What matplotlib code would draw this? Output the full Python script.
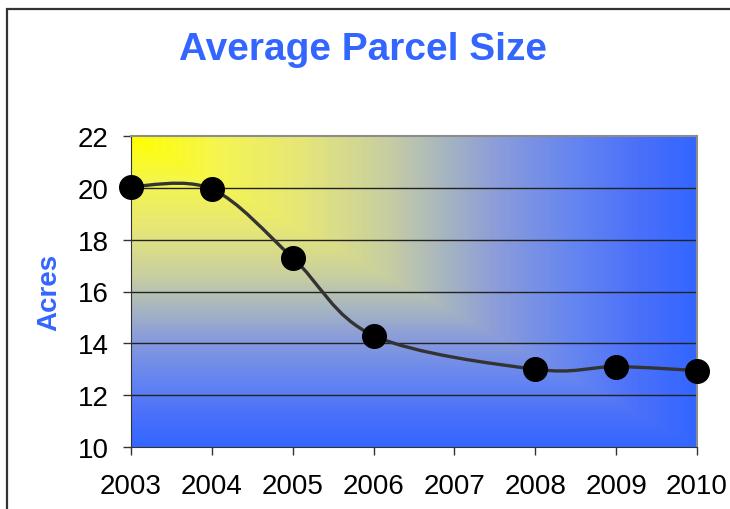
import numpy as np
import matplotlib
matplotlib.use("Agg")
import matplotlib.pyplot as plt
from matplotlib.path import Path
from matplotlib.patches import PathPatch, Rectangle
from matplotlib.colors import LinearSegmentedColormap

plt.rcParams['font.family'] = ['Liberation Sans', 'DejaVu Sans']

# data
years = [2003, 2004, 2005, 2006, 2008, 2009, 2010]
acres = [20.05, 19.95, 17.3, 14.3, 13.0, 13.1, 12.95]
yticks = [10, 12, 14, 16, 18, 20, 22]
xticks = [2003, 2004, 2005, 2006, 2007, 2008, 2009, 2010]

title_color = '#3366FF'

def smooth_path(xs, ys):
    # Excel-style smoothed line: cubic Bezier with Catmull-Rom tangents
    pts = np.column_stack([xs, ys]).astype(float)
    n = len(pts)
    verts = [pts[0]]
    codes = [Path.MOVETO]
    for i in range(n - 1):
        p_prev = pts[i - 1] if i > 0 else pts[i]
        p_next = pts[i + 2] if i + 2 < n else pts[i + 1]
        c1 = pts[i] + (pts[i + 1] - p_prev) / 6.0
        c2 = pts[i + 1] - (p_next - pts[i]) / 6.0
        verts += [c1, c2, pts[i + 1]]
        codes += [Path.CURVE4] * 3
    return Path(verts, codes)

fig = plt.figure(figsize=(7.3, 5.1), dpi=100)
ax = fig.add_axes([131 / 730, 62 / 510, 566 / 730, 311 / 510])

# background: rectangular "from corner" gradient, yellow top-left -> blue
gx, gy = np.meshgrid(np.linspace(0, 1, 566), np.linspace(0, 1, 311))
t = np.maximum(gx, gy)
cmap = LinearSegmentedColormap.from_list(
    'yb', [(0.0, '#FFFF00'), (0.15, '#F5F550'), (0.3, '#E6E678'),
           (0.45, '#C8CFA0'), (0.55, '#A8B6C0'), (0.65, '#8A9CDA'),
           (0.78, '#6686F0'), (0.9, '#4A70FA'), (1.0, '#3366FF')])
ax.imshow(t, cmap=cmap, extent=[0, 1, 0, 1], origin='upper',
          transform=ax.transAxes, aspect='auto', zorder=0,
          interpolation='bilinear')

ax.set_xlim(2003, 2010)
ax.set_ylim(10, 22)
for v in yticks[1:-1]:
    ax.axhline(v, color='#222222', lw=1.0, zorder=1)

ax.add_patch(PathPatch(smooth_path(years, acres), facecolor='none',
                       edgecolor='#333333', lw=2.4, zorder=3, clip_on=False))
ax.plot(years, acres, 'o', color='black', markersize=17, zorder=4, clip_on=False)

ax.set_xticks(xticks)
ax.set_yticks(yticks)
ax.tick_params(axis='x', direction='out', length=6, width=1, color='#333333',
               labelsize=20, pad=13)
ax.tick_params(axis='y', direction='out', length=6, width=1, color='#333333',
               labelsize=20, pad=10)
for s in ['left', 'bottom']:
    ax.spines[s].set_color('#333333')
for s in ['top', 'right']:
    ax.spines[s].set_color('#8c8c8c')
    ax.spines[s].set_linewidth(1.5)

fig.text(363 / 730, 1 - 50 / 510, 'Average Parcel Size', color=title_color,
         fontsize=28, fontweight='bold', ha='center', va='center')
fig.text(49 / 730, 1 - 292 / 510, 'Acres', color=title_color, fontsize=20,
         fontweight='bold', rotation=90, ha='center', va='center')

# outer chart border (clipped at right and bottom like the source)
fig.patches.append(Rectangle((7 / 730, -0.1), 1.2, (510 - 10) / 510 + 0.1,
                             transform=fig.transFigure, fill=False,
                             edgecolor='#333333', lw=1.6))

fig.savefig('out.png', dpi=100)
